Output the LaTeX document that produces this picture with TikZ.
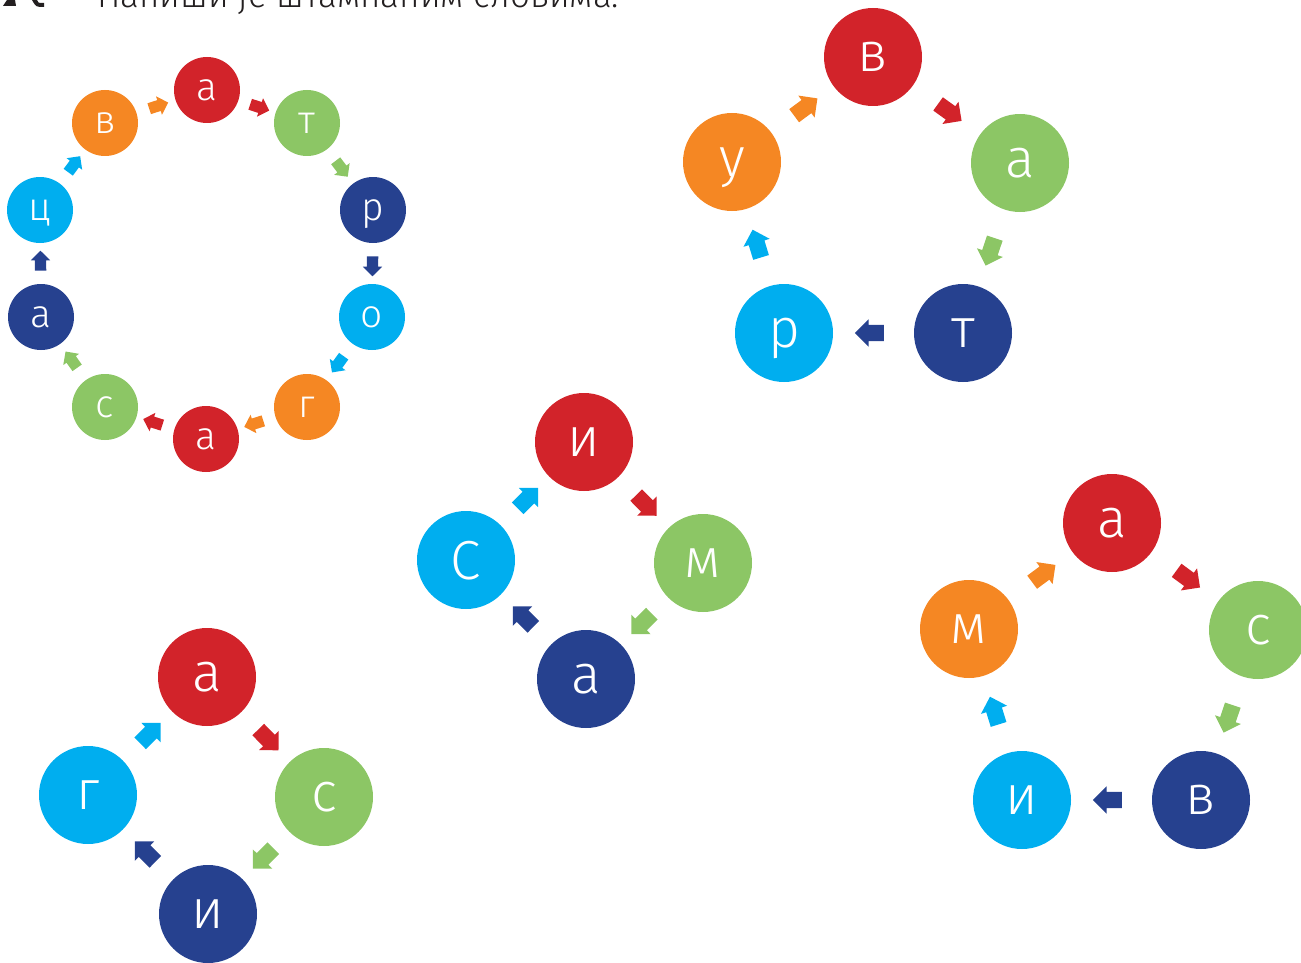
\documentclass[tikz,border=0pt]{standalone}
\usepackage{fontspec}
\newfontfamily\lf{Fira Sans Light}
\usetikzlibrary{shapes.arrows}
\definecolor{cred}{HTML}{D2232A}
\definecolor{cgreen}{HTML}{8CC665}
\definecolor{cnavy}{HTML}{26418F}
\definecolor{ccyan}{HTML}{00AEEF}
\definecolor{corange}{HTML}{F58723}
\definecolor{ink}{HTML}{231F20}
\begin{document}
\begin{tikzpicture}[x=1pt,y=-1pt,
 big/.style={circle, fill=#1, text=white, inner sep=0pt, minimum size=98pt, font=\lf\fontsize{55}{55}\selectfont, text height=29pt, text depth=0pt},
 small/.style={circle, fill=#1, text=white, inner sep=0pt, minimum size=66pt, font=\lf\fontsize{39}{39}\selectfont, text height=20.5pt, text depth=0pt},
 barrow/.style={single arrow, fill=#1, draw=none, inner xsep=0pt, inner ysep=8pt, minimum height=29pt, single arrow head extend=5.5pt, sloped, allow upside down},
 sarrow/.style={single arrow, fill=#1, draw=none, inner xsep=0pt, inner ysep=5.5pt, minimum height=20pt, single arrow head extend=4pt, sloped, allow upside down},
 link/.style={draw=none}
]
\useasboundingbox (0,0) rectangle (1301,963);

% heading (cut at top edge, as in the reference)
\node[anchor=base west, inner sep=0pt, text=ink, font=\lf\fontsize{35}{35}\selectfont] (title) at (97,8) {Напиши је штампаним словима.};
\fill[ink] (3,6) -- (16,6) -- (15,0) -- (7,0) -- cycle;
\fill[ink] (32,0) -- (37,0) .. controls (38,3) .. (44,3) -- (44,7) .. controls (36,7) .. (32,0) -- cycle;

% group 1: ватрогасац
\node[small=corange] (a1) at (105,123) {в};
\node[small=cred]    (a2) at (207,90)  {а};
\node[small=cgreen]  (a3) at (307,123) {т};
\node[small=cnavy]   (a4) at (373,210) {р};
\node[small=ccyan]   (a5) at (372,317) {о};
\node[small=corange] (a6) at (307,407) {г};
\node[small=cred]    (a7) at (206,439) {а};
\node[small=cgreen]  (a8) at (105,407) {с};
\node[small=cnavy]   (a9) at (41,317)  {а};
\node[small=ccyan]   (a10) at (40,210) {ц};
\path[link] (a1) -- (a2) node[midway, sarrow=corange] (ra1) {};
\path[link] (a2) -- (a3) node[midway, sarrow=cred] (ra2) {};
\path[link] (a3) -- (a4) node[midway, sarrow=cgreen] (ra3) {};
\path[link] (a4) -- (a5) node[midway, sarrow=cnavy] (ra4) {};
\path[link] (a5) -- (a6) node[midway, sarrow=ccyan] (ra5) {};
\path[link] (a6) -- (a7) node[midway, sarrow=corange] (ra6) {};
\path[link] (a7) -- (a8) node[midway, sarrow=cred] (ra7) {};
\path[link] (a8) -- (a9) node[midway, sarrow=cgreen] (ra8) {};
\path[link] (a9) -- (a10) node[midway, sarrow=cnavy] (ra9) {};
\path[link] (a10) -- (a1) node[midway, sarrow=ccyan] (ra10) {};

% group 2: ватру
\node[big=cred]    (b1) at (873,57)  {в};
\node[big=cgreen]  (b2) at (1020,163) {а};
\node[big=cnavy]   (b3) at (963,333) {т};
\node[big=ccyan]   (b4) at (784,333) {р};
\node[big=corange] (b5) at (732,162) {у};
\path[link] (b5) -- (b1) node[midway, barrow=corange] (rb1) {};
\path[link] (b1) -- (b2) node[midway, barrow=cred] (rb2) {};
\path[link] (b2) -- (b3) node[midway, barrow=cgreen] (rb3) {};
\path[link] (b3) -- (b4) node[midway, barrow=cnavy] (rb4) {};
\path[link] (b4) -- (b5) node[midway, barrow=ccyan] (rb5) {};

% group 3: Сима
\node[big=cred]   (c1) at (584,442) {и};
\node[big=cgreen] (c2) at (703,563) {м};
\node[big=cnavy]  (c3) at (586,679) {а};
\node[big=ccyan, text height=38pt] (c4) at (466,560) {С};
\path[link] (c4) -- (c1) node[midway, barrow=ccyan] (rc1) {};
\path[link] (c1) -- (c2) node[midway, barrow=cred] (rc2) {};
\path[link] (c2) -- (c3) node[midway, barrow=cgreen] (rc3) {};
\path[link] (c3) -- (c4) node[midway, barrow=cnavy] (rc4) {};

% group 4
\node[big=cred]    (d1) at (1112,523) {а};
\node[big=cgreen]  (d2) at (1258,630) {с};
\node[big=cnavy]   (d3) at (1201,800) {в};
\node[big=ccyan]   (d4) at (1022,800) {и};
\node[big=corange] (d5) at (969,629)  {м};
\path[link] (d5) -- (d1) node[midway, barrow=corange] (rd1) {};
\path[link] (d1) -- (d2) node[midway, barrow=cred] (rd2) {};
\path[link] (d2) -- (d3) node[midway, barrow=cgreen] (rd3) {};
\path[link] (d3) -- (d4) node[midway, barrow=cnavy] (rd4) {};
\path[link] (d4) -- (d5) node[midway, barrow=ccyan] (rd5) {};

% group 5
\node[big=cred]   (e1) at (207,677) {а};
\node[big=cgreen] (e2) at (324,797) {с};
\node[big=cnavy]  (e3) at (208,914) {и};
\node[big=ccyan]  (e4) at (88,795)  {г};
\path[link] (e4) -- (e1) node[midway, barrow=ccyan] (re1) {};
\path[link] (e1) -- (e2) node[midway, barrow=cred] (re2) {};
\path[link] (e2) -- (e3) node[midway, barrow=cgreen] (re3) {};
\path[link] (e3) -- (e4) node[midway, barrow=cnavy] (re4) {};
\end{tikzpicture}
\end{document}
